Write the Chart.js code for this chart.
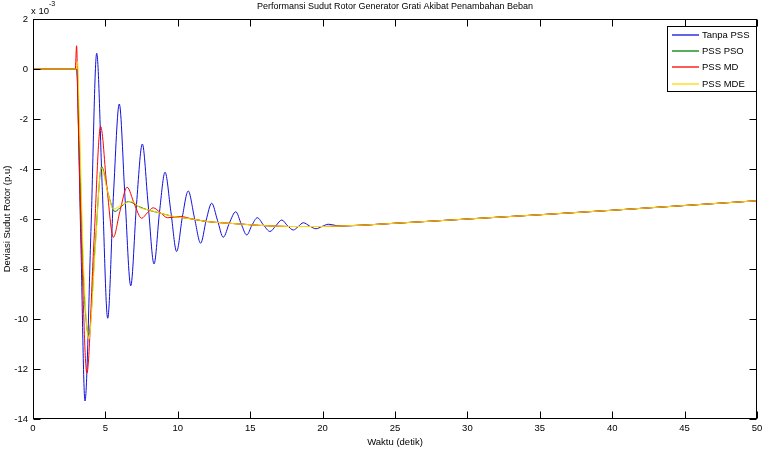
<!DOCTYPE html>
<html>
<head>
<meta charset="utf-8">
<script src="https://cdn.jsdelivr.net/npm/chart.js@4.4.0/dist/chart.umd.min.js"></script>
<style>
  html, body { margin: 0; padding: 0; background: #fff; }
  #chart { display: block; }
</style>
</head>
<body>
<canvas id="chart" width="772" height="452"></canvas>
<script>
// Values (y in units of 1e-3 p.u.)
const seriesNames = ['Tanpa PSS', 'PSS PSO', 'PSS MD', 'PSS MDE'];
const seriesColors = ['#1010dc', '#008000', '#ff0000', '#ffd800'];

const xTicks = [0, 5, 10, 15, 20, 25, 30, 35, 40, 45, 50];
const yTicks = [-14, -12, -10, -8, -6, -4, -2, 0, 2];

// shared slow tail after the oscillations die out
const tTail = [21.2, 23, 25, 28, 30, 35, 40, 45, 50];
const yTail = [-6.28, -6.24, -6.17, -6.07, -6.0, -5.83, -5.65, -5.46, -5.27];

const tTanpa = [0, 3.0, 3.3, 3.59, 4.0, 4.4, 4.78, 5.16, 5.56, 5.96, 6.35, 6.75, 7.15, 7.55, 7.95, 8.36,
  8.74, 9.12, 9.52, 9.92, 10.32, 10.72, 11.15, 11.58, 11.96, 12.34, 12.74, 13.14, 13.57, 14.0, 14.38,
  14.76, 15.12, 15.49, 15.93, 16.37, 16.77, 17.18, 17.58, 17.98, 18.32, 18.67, 19.1, 19.54, 19.96, 20.39];
const yTanpa = [0, 0, -6.8, -13.28, -6.5, 0.63, -4.7, -9.97, -5.0, -1.4, -5.1, -8.67, -5.4, -3.0, -5.4, -7.8,
  -5.7, -4.13, -5.7, -7.3, -5.9, -4.88, -5.95, -6.97, -6.05, -5.37, -6.05, -6.73, -6.15, -5.71, -6.2,
  -6.64, -6.25, -5.95, -6.25, -6.5, -6.27, -6.04, -6.27, -6.44, -6.3, -6.15, -6.28, -6.39, -6.3, -6.21];

const tPso = [0, 3.05, 3.2, 3.5, 3.85, 4.3, 4.74, 5.2, 5.66, 6.1, 6.6, 7.3, 8.0, 8.7, 9.7, 11, 12, 13, 14.3, 15.5, 17.7, 20];
const yPso = [0, 0, -3.0, -8.5, -10.65, -7.0, -3.9, -5.0, -5.7, -5.5, -5.3, -5.5, -5.65, -5.75, -5.9, -6.0, -6.1, -6.15, -6.2, -6.25, -6.3, -6.3];

const tMd = [0, 2.92, 3.01, 3.12, 3.4, 3.72, 4.2, 4.67, 5.1, 5.55, 6.0, 6.5, 7.0, 7.5, 7.9, 8.3, 8.8, 9.3, 10.2, 11, 12, 13, 14.3, 15.5, 17.7, 20];
const yMd = [0, 0, 0.93, -2.0, -8.0, -12.17, -7.0, -2.3, -4.7, -6.73, -5.7, -4.73, -5.4, -5.97, -5.75, -5.55, -5.75, -5.95, -5.9, -6.0, -6.1, -6.15, -6.2, -6.25, -6.3, -6.3];

const tMde = [0, 3.0, 3.08, 3.18, 3.5, 3.85, 4.3, 4.72, 5.15, 5.55, 6.1, 6.8, 7.4, 8.1, 8.7, 9.7, 11, 12, 13, 14.3, 15.5, 17.7, 20];
const yMde = [0, 0, 0.3, -1.5, -8.0, -10.8, -7.2, -3.95, -4.9, -5.6, -5.45, -5.3, -5.55, -5.65, -5.75, -5.9, -6.0, -6.1, -6.15, -6.2, -6.25, -6.3, -6.3];

const FONT = '"Liberation Sans", Arial, sans-serif';

function toPoints(ts, ys) {
  const pts = ts.map((t, i) => ({ x: t, y: ys[i] }));
  tTail.forEach((t, i) => pts.push({ x: t, y: yTail[i] }));
  return pts;
}

// MATLAB-style box, inward ticks, titles and legend
const matlabFrame = {
  id: 'matlabFrame',
  afterDraw(chart) {
    const { ctx, chartArea: a, scales } = chart;
    const x = scales.x, y = scales.y;
    const L = Math.round(a.left) + 0.5, R = Math.round(a.right) - 0.5;
    const T = Math.round(a.top) + 0.5, B = Math.round(a.bottom) - 0.5;
    ctx.save();
    ctx.strokeStyle = '#000';
    ctx.lineWidth = 1;
    ctx.strokeRect(L, T, R - L, B - T);

    ctx.beginPath();
    xTicks.forEach(v => {
      const px = Math.round(x.getPixelForValue(v)) + 0.5;
      ctx.moveTo(px, B); ctx.lineTo(px, B - 7);
      ctx.moveTo(px, T); ctx.lineTo(px, T + 7);
    });
    yTicks.forEach(v => {
      const py = Math.round(y.getPixelForValue(v)) + 0.5;
      ctx.moveTo(L, py); ctx.lineTo(L + 7, py);
      ctx.moveTo(R, py); ctx.lineTo(R - 7, py);
    });
    ctx.stroke();

    ctx.fillStyle = '#000';
    ctx.textBaseline = 'middle';

    // title
    ctx.font = '9px ' + FONT;
    ctx.textAlign = 'center';
    ctx.fillText('Performansi Sudut Rotor Generator Grati Akibat Penambahan Beban', (a.left + a.right) / 2, 7);

    // exponent label
    ctx.textAlign = 'left';
    ctx.font = '9.5px ' + FONT;
    ctx.fillText('x 10', 31, 11);
    ctx.font = '7px ' + FONT;
    ctx.fillText('-3', 49, 4);

    // axis titles
    ctx.font = '9.5px ' + FONT;
    ctx.textAlign = 'center';
    ctx.fillText('Waktu (detik)', (a.left + a.right) / 2, 442);
    ctx.save();
    ctx.translate(7, (a.top + a.bottom) / 2);
    ctx.rotate(-Math.PI / 2);
    ctx.fillText('Deviasi Sudut Rotor (p.u)', 0, 0);
    ctx.restore();

    // legend
    const bx = 667.5, by = 26.5, bw = 89, bh = 65;
    ctx.fillStyle = '#fff';
    ctx.fillRect(bx, by, bw, bh);
    ctx.strokeStyle = '#000';
    ctx.lineWidth = 1;
    ctx.strokeRect(bx, by, bw, bh);
    ctx.font = '9.5px ' + FONT;
    ctx.textAlign = 'left';
    seriesNames.forEach((name, i) => {
      const ry = Math.round(35 + i * 16.2);
      ctx.beginPath();
      ctx.strokeStyle = seriesColors[i];
      ctx.lineWidth = 1.3;
      ctx.moveTo(672, ry);
      ctx.lineTo(699, ry);
      ctx.stroke();
      ctx.fillStyle = '#000';
      ctx.fillText(name, 702, ry + 0.5);
    });
    ctx.restore();
  }
};

const series = [
  toPoints(tTanpa, yTanpa),
  toPoints(tPso, yPso),
  toPoints(tMd, yMd),
  toPoints(tMde, yMde)
];

new Chart(document.getElementById('chart'), {
  type: 'line',
  data: {
    datasets: series.map((pts, i) => ({
      label: seriesNames[i],
      data: pts,
      borderColor: seriesColors[i],
      borderWidth: 1,
      pointRadius: 0,
      fill: false,
      cubicInterpolationMode: 'monotone',
      order: seriesNames.length - i  // yellow drawn on top
    }))
  },
  options: {
    responsive: false,
    animation: false,
    devicePixelRatio: 1,
    layout: { padding: { left: 0, right: 15, top: 19, bottom: 0 } },
    scales: {
      x: {
        type: 'linear',
        min: 0,
        max: 50,
        afterBuildTicks: s => { s.ticks = xTicks.map(v => ({ value: v })); },
        afterFit: s => { s.height = 33; },
        ticks: { color: '#000', font: { size: 9.5, family: FONT }, padding: 4, maxRotation: 0 },
        grid: { display: false, drawTicks: false },
        border: { display: false }
      },
      y: {
        min: -14,
        max: 2,
        afterBuildTicks: s => { s.ticks = yTicks.map(v => ({ value: v })); },
        afterFit: s => { s.width = 33; },
        ticks: { color: '#000', font: { size: 9.5, family: FONT }, padding: 5 },
        grid: { display: false, drawTicks: false },
        border: { display: false }
      }
    },
    plugins: {
      legend: { display: false },
      title: { display: false },
      tooltip: { enabled: false }
    }
  },
  plugins: [matlabFrame]
});
</script>
</body>
</html>
